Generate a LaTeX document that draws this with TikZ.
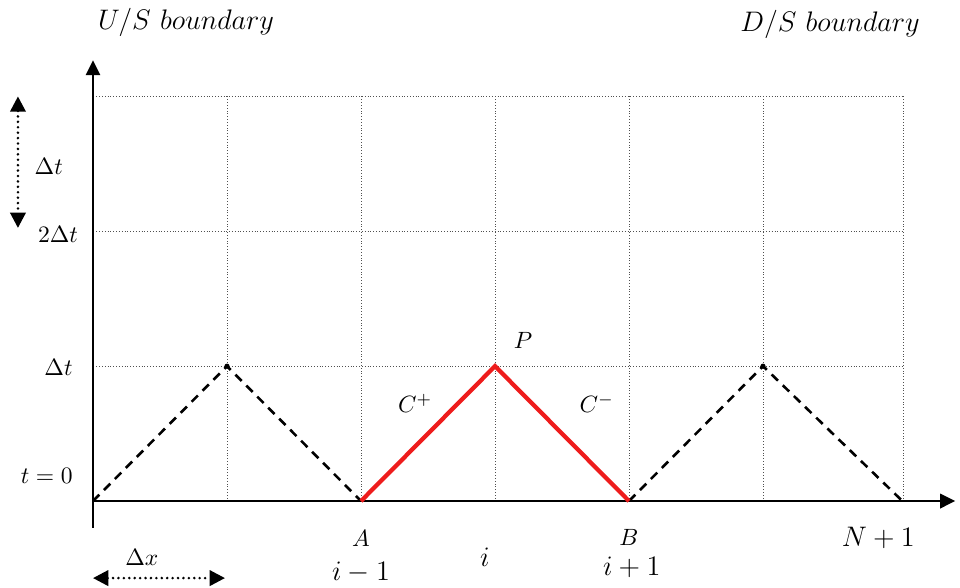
\documentclass[tikz,border=0pt]{standalone}
\usepackage{amsmath,amssymb}
\usepackage{xcolor}
\usepackage{tikz}
\usetikzlibrary{arrows.meta,positioning,calc}
\definecolor{charRed}{HTML}{EE1C1C}
\definecolor{gridGray}{HTML}{505050}
\tikzset{
  gridline/.style={gridGray,densely dotted,very thin},
  axisline/.style={line width=1.2pt,-{Triangle[length=6.4pt,width=6pt]}},
  charline/.style={line width=1.1pt,dash pattern=on 3.8pt off 2.8pt},
  dimarrow/.style={line width=1.2pt,dash pattern=on 0pt off 2.3pt,line cap=round,
    {Triangle[length=6.5pt,width=6.5pt]}-{Triangle[length=6.5pt,width=6.5pt]}},
  ptlabel/.style={inner sep=0.5pt}
}

\begin{document}
\begin{tikzpicture}[font=\normalsize]
\def\dx{2}
\def\dt{2.013}
\useasboundingbox (-1.388,-1.284) rectangle (12.94,7.478);
% grid
\foreach \i in {1,...,5}{\draw[gridline] (\i*\dx,0) -- (\i*\dx,3*\dt);}
\draw[gridline] (12.1,0) -- (12.1,3*\dt);
\foreach \j in {1,2,3}{\draw[gridline] (0.05,\j*\dt) -- (12.1,\j*\dt);}
% axes
\coordinate (O) at (0,0);
\coordinate (xend) at (12.87,0);
\coordinate (ybot) at (0,-0.4);
\coordinate (yend) at (0,6.58);
\draw[axisline] (O) -- (xend);
\draw[axisline] (ybot) -- (yend);
% characteristics
\coordinate (L) at (\dx,\dt);
\coordinate (A) at (2*\dx,0);
\coordinate (P) at (3*\dx,\dt);
\coordinate (B) at (4*\dx,0);
\coordinate (R) at (5*\dx,\dt);
\coordinate (E) at (12.08,0);
\draw[charline] (O) -- (L) -- (A);
\draw[charline] (B) -- (R) -- (E);
\draw[charRed,line width=1.8pt,line join=miter] (A) -- (P) -- (B);
\fill (L) circle (1.1pt);
\fill (R) circle (1.1pt);
% step sizes
\coordinate (dtTop) at (-1.12,3*\dt);
\coordinate (dtBot) at (-1.12,2*\dt+0.05);
\draw[dimarrow] (dtTop) -- (dtBot);
\coordinate (dxL) at (0,-1.15);
\coordinate (dxR) at (1.97,-1.15);
\draw[dimarrow] (dxL) -- (dxR);
% labels
\node[font=\large] (us) at (1.39,7.15) {$U/S~boundary$};
\node[font=\large] (ds) at (11.0,7.12) {$D/S~boundary$};
\node (dtlab) at (-0.66,5.0) {$\Delta t$};
\node[anchor=east] (t2) at (-0.1,3.98) {$2\Delta t$};
\node[anchor=east] (t1) at (-0.18,2.0) {$\Delta t$};
\node[anchor=east] (t0) at (-0.18,0.37) {$t=0$};
\node (dxlab) at (0.73,-0.84) {$\Delta x$};
\node[ptlabel] (Alab) at (4.0,-0.56) {$A$};
\node[font=\large,ptlabel] (im1) at (4.0,-1.06) {$i-1$};
\node[font=\large] (ilab) at (5.85,-0.84) {$i$};
\node[ptlabel] (Blab) at (8.0,-0.54) {$B$};
\node[font=\large,ptlabel] (ip1) at (8.04,-0.99) {$i+1$};
\node[font=\large] (Np1) at (11.72,-0.55) {$N+1$};
\node (Plab) at (6.42,2.4) {$P$};
\node (Cp) at (4.81,1.46) {$C^{+}$};
\node (Cm) at (7.52,1.46) {$C^{-}$};
\end{tikzpicture}
\end{document}
